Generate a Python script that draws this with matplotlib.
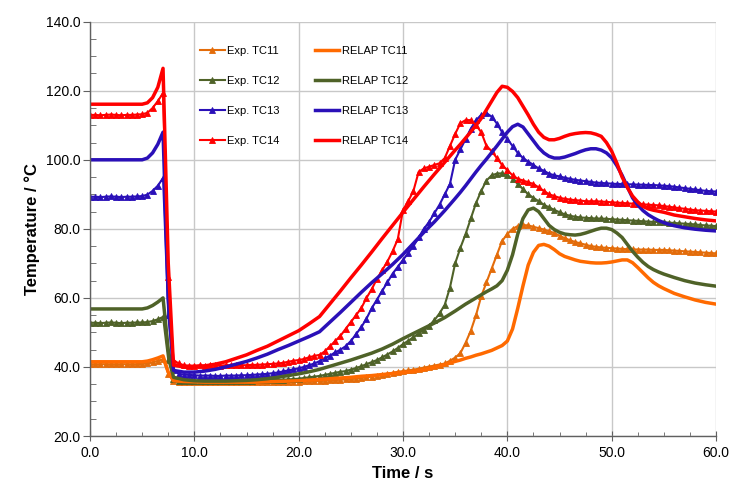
import numpy as np
import matplotlib
matplotlib.use('Agg')
import matplotlib.pyplot as plt
from matplotlib.ticker import MultipleLocator, FormatStrFormatter

plt.rcParams['font.family'] = ['Liberation Sans', 'DejaVu Sans']

# tiempo de las medidas (cada 0.5 s)
t_exp = np.arange(0, 60.01, 0.5)

exp_tc11 = [
    40.8, 40.8, 40.8, 40.8, 40.8, 40.8, 40.8, 40.8, 40.8, 40.8,
    40.9, 41.0, 41.3, 41.8, 42.2, 38.0, 36.0, 35.6, 35.5, 35.5,
    35.5, 35.5, 35.5, 35.5, 35.5, 35.5, 35.5, 35.5, 35.5, 35.5,
    35.5, 35.5, 35.5, 35.5, 35.5, 35.6, 35.6, 35.6, 35.7, 35.7,
    35.7, 35.8, 35.8, 35.9, 35.9, 36.0, 36.1, 36.2, 36.3, 36.4,
    36.5, 36.6, 36.8, 37.0, 37.2, 37.4, 37.7, 38.0, 38.3, 38.6,
    38.8, 39.0, 39.2, 39.5, 39.8, 40.1, 40.4, 40.7, 41.0, 41.8,
    42.7, 44.0, 47.0, 50.5, 55.0, 60.5, 64.5, 68.5, 72.5, 76.5,
    78.5, 80.0, 80.8, 81.1, 81.0, 80.6, 80.2, 79.8, 79.3, 78.8,
    78.0, 77.3, 76.7, 76.2, 75.8, 75.4, 75.0, 74.8, 74.6, 74.5,
    74.4, 74.3, 74.2, 74.1, 74.1, 74.0, 74.0, 74.0, 73.9, 73.9,
    73.9, 73.8, 73.7, 73.6, 73.5, 73.4, 73.3, 73.2, 73.1, 73.0,
    72.9]

exp_tc12 = [
    52.8, 52.8, 52.7, 52.8, 52.9, 52.8, 52.7, 52.8, 52.8, 52.9,
    52.9, 53.0, 53.3, 53.8, 54.5, 42.0, 36.5, 36.0, 35.8, 35.8,
    35.8, 35.8, 35.9, 35.9, 35.9, 36.0, 36.0, 36.0, 36.0, 36.0,
    36.0, 36.0, 36.1, 36.1, 36.2, 36.2, 36.3, 36.3, 36.4, 36.5,
    36.6, 36.8, 37.0, 37.2, 37.4, 37.7, 38.0, 38.3, 38.6, 38.8,
    39.2, 39.7, 40.2, 40.8, 41.4, 42.0, 42.8, 43.6, 44.5, 45.5,
    46.6, 47.6, 48.6, 49.7, 50.8, 52.0, 53.5, 55.5, 58.0, 63.0,
    70.0, 74.5, 78.5, 83.0, 87.5, 91.0, 94.0, 95.5, 96.0, 96.1,
    95.5, 94.5, 93.0, 91.5, 90.0, 89.0, 88.0, 87.0, 86.2, 85.5,
    84.8, 84.2, 83.8, 83.5, 83.3, 83.2, 83.1, 83.0, 83.0, 82.9,
    82.8, 82.7, 82.6, 82.5, 82.4, 82.3, 82.2, 82.1, 82.0, 82.0,
    81.9, 81.8, 81.7, 81.6, 81.5, 81.4, 81.3, 81.1, 81.0, 80.9,
    80.8]

exp_tc13 = [
    89.3, 89.3, 89.2, 89.3, 89.4, 89.3, 89.2, 89.3, 89.3, 89.4,
    89.5, 89.9, 91.0, 92.5, 94.7, 55.0, 39.0, 38.0, 37.8, 37.7,
    37.6, 37.5, 37.5, 37.5, 37.4, 37.4, 37.5, 37.5, 37.5, 37.6,
    37.6, 37.7, 37.8, 37.9, 38.0, 38.2, 38.4, 38.7, 39.0, 39.3,
    39.6, 40.0, 40.5, 41.0, 41.7, 42.5, 43.3, 44.2, 45.0, 46.0,
    47.5, 49.5, 51.5, 54.0, 57.0, 59.5, 62.0, 64.5, 67.0, 69.0,
    71.0, 73.0, 75.0, 77.5, 80.0, 82.0, 84.5, 87.0, 90.0, 93.0,
    100.0, 103.0, 106.0, 109.0, 111.5, 113.0, 113.5, 112.5, 110.5, 108.0,
    106.0, 104.0, 102.0, 100.5, 99.5, 98.5, 97.5, 96.8, 96.0, 95.5,
    95.2, 94.8, 94.5, 94.2, 94.0, 93.8, 93.6, 93.4, 93.3, 93.2,
    93.1, 93.0, 93.0, 92.9, 92.9, 92.8, 92.8, 92.7, 92.7, 92.6,
    92.5, 92.4, 92.2, 92.0, 91.8, 91.6, 91.4, 91.2, 91.0, 90.9,
    90.8]

exp_tc14 = [
    113.0, 113.0, 112.9, 113.0, 113.1, 113.0, 112.9, 113.0, 113.0, 113.1,
    113.2, 113.6, 115.0, 117.0, 119.3, 66.0, 42.0, 41.0, 40.5, 40.4,
    40.4, 40.5, 40.4, 40.5, 40.5, 40.4, 40.5, 40.5, 40.6, 40.5,
    40.5, 40.6, 40.6, 40.7, 40.8, 40.9, 41.0, 41.2, 41.5, 41.8,
    42.0, 42.3, 42.8, 43.2, 43.5, 44.5, 46.0, 47.5, 49.0, 51.0,
    53.0, 55.0, 57.0, 60.0, 62.5, 65.5, 68.0, 70.5, 73.5, 77.0,
    85.5, 88.0, 91.0, 96.5, 97.5, 98.0, 98.5, 99.0, 100.5, 104.0,
    107.5, 110.6, 111.5, 111.5, 110.0, 108.0, 104.0, 102.5, 100.5, 98.5,
    97.0, 95.5, 94.5, 94.0, 93.5, 93.0, 92.0, 91.0, 90.0, 89.5,
    89.0, 88.7, 88.5, 88.3, 88.2, 88.0, 88.0, 88.0, 87.9, 87.8,
    87.7, 87.6, 87.5, 87.4, 87.3, 87.2, 87.1, 87.0, 86.9, 86.8,
    86.6, 86.4, 86.2, 86.0, 85.8, 85.6, 85.4, 85.3, 85.2, 85.1,
    85.0]

# tiempo del calculo RELAP (mas fino cerca de los picos)
t_relap = np.concatenate([np.arange(0, 5), [5, 5.5, 6, 6.5, 7, 7.5, 8],
                          np.arange(9, 35), np.arange(35, 56.01, 0.5), np.arange(57, 61)])

relap_tc11 = [
    41.5, 41.5, 41.5, 41.5, 41.5,
    41.5, 41.7, 42.1, 42.6, 43.2, 38.5, 36.0,
    35.8, 35.7, 35.6, 35.6, 35.6, 35.6, 35.6, 35.6, 35.7, 35.8, 35.9, 36.0, 36.2,
    36.4, 36.6, 36.8, 37.0, 37.3, 37.5, 37.8, 38.1, 38.4, 38.7, 39.2, 39.9, 40.7,
    41.6, 42.0, 42.5, 42.9, 43.4, 43.8, 44.3, 44.8, 45.5, 46.2,
    47.5, 51.0, 57.0, 63.5, 69.5, 73.2, 75.2, 75.5, 75.0, 74.0,
    72.8, 72.0, 71.5, 71.0, 70.6, 70.4, 70.2, 70.1, 70.1, 70.2,
    70.4, 70.7, 71.0, 71.0, 70.2, 68.8, 67.3, 65.8, 64.5, 63.5,
    62.7, 62.0, 61.3,
    60.3, 59.4, 58.7, 58.2]

relap_tc12 = [
    56.8, 56.8, 56.8, 56.8, 56.8,
    56.8, 57.1, 57.8, 58.8, 60.0, 45.0, 37.0,
    36.3, 36.0, 35.9, 35.9, 35.9, 36.0, 36.1, 36.3, 36.6, 37.0, 37.5, 38.0, 38.6,
    39.3, 40.2, 41.1, 42.0, 43.0, 44.0, 45.2, 46.6, 48.2, 49.7, 51.2, 52.7, 54.3,
    56.2, 57.2, 58.2, 59.1, 60.0, 60.9, 61.8, 62.6, 63.5, 65.0,
    68.0, 72.5, 78.5, 83.0, 85.5, 86.0, 85.0, 83.0, 81.0, 79.8,
    79.0, 78.5, 78.3, 78.2, 78.4, 78.8, 79.3, 79.8, 80.2, 80.2,
    79.8, 78.8, 77.5, 75.5, 73.5, 71.8, 70.3, 69.1, 68.2, 67.5,
    66.9, 66.4, 65.9,
    65.0, 64.3, 63.8, 63.4]

relap_tc13 = [
    100.0, 100.0, 100.0, 100.0, 100.0,
    100.0, 100.5, 102.0, 104.5, 108.0, 60.0, 39.0,
    38.5, 38.5, 38.8, 39.3, 40.0, 40.8, 41.6, 42.6, 43.7, 45.0, 46.2, 47.5, 48.8,
    50.2, 53.0, 55.8, 58.7, 61.6, 64.4, 67.0, 69.7, 72.6, 75.8, 79.0, 82.0, 85.3,
    88.8, 90.6, 92.5, 94.5, 96.5, 98.4, 100.2, 102.1, 104.0, 106.0,
    108.0, 109.6, 110.3, 109.5, 107.5, 105.5, 103.5, 102.0, 101.0, 100.5,
    100.5, 100.8, 101.3, 101.8, 102.4, 102.9, 103.2, 103.2, 102.8, 102.0,
    100.6, 98.3, 95.5, 92.2, 89.0, 86.9, 85.3, 84.1, 83.2, 82.4,
    81.8, 81.3, 80.9,
    80.3, 79.9, 79.6, 79.4]

relap_tc14 = [
    116.1, 116.1, 116.1, 116.1, 116.1,
    116.1, 116.5, 118.0, 121.0, 126.5, 70.0, 40.5,
    40.0, 40.0, 40.3, 40.8, 41.5, 42.5, 43.5, 44.8, 46.0, 47.5, 49.0, 50.5, 52.5,
    54.6, 58.3, 62.0, 65.8, 69.5, 73.3, 77.2, 81.0, 84.8, 88.5, 92.2, 95.8, 99.3,
    102.8, 104.5, 106.3, 108.1, 110.0, 112.0, 114.5, 117.0, 119.5, 121.3,
    121.0, 119.8, 118.0, 115.5, 113.0, 110.3, 108.0, 106.5, 105.8, 105.8,
    106.2, 106.8, 107.3, 107.6, 107.8, 107.9, 107.8, 107.4, 106.8, 105.0,
    102.5, 99.0, 95.0, 92.0, 89.5, 87.8, 86.5, 85.8, 85.4, 85.1,
    84.8, 84.4, 84.0,
    83.5, 83.0, 82.6, 82.3]

nombres = ['TC11', 'TC12', 'TC13', 'TC14']
colores_exp = ['#E36C0A', '#4F6228', '#2A10B8', '#FF0000']
colores_relap = ['#FF6A00', '#4F6228', '#2A10B8', '#FF0000']

fig = plt.figure(figsize=(7.35, 4.9), dpi=100)
ax = fig.add_axes([90/735, 1 - 436/490, 626/735, (436 - 21.7)/490])

for y, n, c in zip([exp_tc11, exp_tc12, exp_tc13, exp_tc14], nombres, colores_exp):
    ax.plot(t_exp, y, color=c, lw=1.5, marker='^', ms=4, mew=0.6, label='Exp. ' + n)
for y, n, c in zip([relap_tc11, relap_tc12, relap_tc13, relap_tc14], nombres, colores_relap):
    ax.plot(t_relap, y, color=c, lw=2.5, label='RELAP ' + n)

ax.set_xlim(0, 60)
ax.set_ylim(20, 140)
ax.xaxis.set_major_locator(MultipleLocator(10))
ax.xaxis.set_minor_locator(MultipleLocator(2.5))
ax.yaxis.set_major_locator(MultipleLocator(20))
ax.yaxis.set_minor_locator(MultipleLocator(5))
ax.xaxis.set_major_formatter(FormatStrFormatter('%.1f'))
ax.yaxis.set_major_formatter(FormatStrFormatter('%.1f'))
ax.grid(True, which='major', color='#C8C8C8', lw=1)
ax.set_axisbelow(True)

for s in ['top', 'right']:
    ax.spines[s].set_visible(False)
for s in ['left', 'bottom']:
    ax.spines[s].set_color('#606060')
    ax.spines[s].set_linewidth(1)

ax.tick_params(axis='y', which='major', direction='out', length=5, color='#606060', labelsize=10, pad=2)
ax.tick_params(axis='y', which='minor', direction='in', length=4, color='#606060')
ax.tick_params(axis='x', which='major', direction='inout', length=7, color='#606060', labelsize=10, pad=4)
ax.tick_params(axis='x', which='minor', direction='in', length=3, color='#606060')

ax.set_xlabel('Time / s', fontsize=12, fontweight='bold', labelpad=4)
ax.set_ylabel('Temperature / °C', fontsize=12, fontweight='bold', labelpad=4)

ax.legend(loc='upper left', bbox_to_anchor=(0.16, 0.965), ncol=2, frameon=False,
          fontsize=8, handlelength=2.2, handletextpad=0.2, columnspacing=3.2,
          labelspacing=1.8)

plt.savefig('out.png', dpi=100)
